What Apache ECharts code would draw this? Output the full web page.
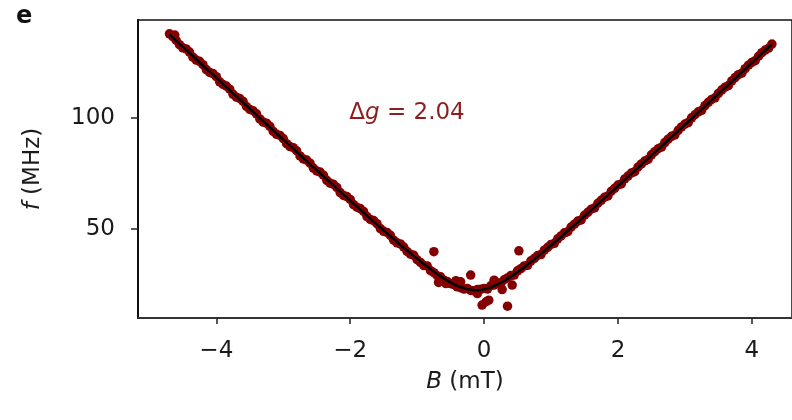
<!DOCTYPE html>
<html>
<head>
<meta charset="utf-8">
<script src="https://cdn.jsdelivr.net/npm/echarts@6/dist/echarts.min.js"></script>
<style>html,body{margin:0;padding:0;background:#fff;}#c{width:792px;height:420px;}</style>
</head>
<body>
<div id="c"></div>
<script>
// Field values (mT) for the main data band and fit
const fieldB = [
-4.7,-4.6,-4.5,-4.4,-4.3,-4.2,-4.1,-4.0,-3.9,-3.8,
-3.7,-3.6,-3.5,-3.4,-3.3,-3.2,-3.1,-3.0,-2.9,-2.8,
-2.7,-2.6,-2.5,-2.4,-2.3,-2.2,-2.1,-2.0,-1.9,-1.8,
-1.7,-1.6,-1.5,-1.4,-1.3,-1.2,-1.1,-1.0,-0.9,-0.8,
-0.7,-0.6,-0.5,-0.4,-0.3,-0.2,-0.1,0.0,0.1,0.2,
0.3,0.4,0.5,0.6,0.7,0.8,0.9,1.0,1.1,1.2,
1.3,1.4,1.5,1.6,1.7,1.8,1.9,2.0,2.1,2.2,
2.3,2.4,2.5,2.6,2.7,2.8,2.9,3.0,3.1,3.2,
3.3,3.4,3.5,3.6,3.7,3.8,3.9,4.0,4.1,4.2,4.3];
// Measured frequencies (MHz) at fieldB
const measuredF = [
137.8,134.9,131.5,129.6,126.0,123.9,120.4,118.5,115.0,112.9,
109.3,107.4,103.8,101.8,98.1,96.2,92.6,90.7,87.1,85.2,
81.5,79.6,76.1,74.2,70.6,68.7,65.1,63.3,59.8,57.9,
54.3,52.4,49.0,47.2,43.8,41.9,38.7,36.2,33.6,31.3,
29.0,27.0,25.4,24.0,23.0,22.4,22.8,23.3,24.5,25.9,
27.2,29.1,31.2,33.4,35.7,38.1,40.5,43.1,45.6,48.3,
50.9,53.6,56.2,58.9,61.6,64.3,67.0,69.8,72.5,75.2,
77.9,80.6,83.4,86.1,88.9,91.7,94.4,97.2,100.0,102.7,
105.5,108.3,111.0,113.8,116.6,119.4,122.1,124.9,127.7,130.5,133.2];
// Second sweep, interleaved field values (mT)
const fieldB2 = [
-4.65,-4.55,-4.45,-4.35,-4.25,-4.15,-4.05,-3.95,-3.85,-3.75,
-3.65,-3.55,-3.45,-3.35,-3.25,-3.15,-3.05,-2.95,-2.85,-2.75,
-2.65,-2.55,-2.45,-2.35,-2.25,-2.15,-2.05,-1.95,-1.85,-1.75,
-1.65,-1.55,-1.45,-1.35,-1.25,-1.15,-1.05,-0.95,-0.85,-0.75,
-0.65,-0.55,-0.45,-0.35,-0.25,-0.15,-0.05,0.05,0.15,0.25,
0.35,0.45,0.55,0.65,0.75,0.85,0.95,1.05,1.15,1.25,
1.35,1.45,1.55,1.65,1.75,1.85,1.95,2.05,2.15,2.25,
2.35,2.45,2.55,2.65,2.75,2.85,2.95,3.05,3.15,3.25,
3.35,3.45,3.55,3.65,3.75,3.85,3.95,4.05,4.15,4.25];
// Second sweep frequencies (MHz)
const measuredF2 = [
136.5,132.9,131.0,127.3,125.4,121.7,119.9,116.2,114.3,110.6,
108.7,105.1,103.2,99.5,97.6,93.9,92.1,88.4,86.6,82.9,
81.0,77.4,75.6,71.9,70.1,66.4,64.6,61.0,59.2,55.6,
53.8,50.2,48.5,45.0,43.3,39.9,38.2,35.0,33.4,30.4,
28.5,26.4,25.0,23.6,23.3,22.2,22.9,23.0,24.8,25.5,
28.0,29.3,32.2,33.7,36.8,38.5,41.8,43.6,46.9,48.8,
52.2,54.1,57.5,59.5,62.9,64.9,68.3,70.3,73.8,75.8,
79.3,81.3,84.8,86.8,90.4,92.3,95.9,97.9,101.4,103.4,
107.0,109.0,112.5,114.5,118.1,120.1,123.7,125.7,129.3,131.3];
// Fit curve (MHz) at fieldB
const fitF = [
137.5,134.7,131.9,129.1,126.4,123.5,120.8,118.0,115.2,112.4,
109.6,106.9,104.1,101.3,98.5,95.7,93.0,90.2,87.5,84.7,
81.9,79.2,76.5,73.7,71.0,68.2,65.5,62.8,60.1,57.4,
54.7,52.0,49.4,46.8,44.2,41.6,39.1,36.6,34.3,32.0,
29.8,27.8,26.0,24.5,23.4,22.7,22.5,22.9,23.8,25.1,
26.7,28.6,30.7,32.9,35.2,37.6,40.1,42.7,45.2,47.8,
50.5,53.1,55.8,58.5,61.2,63.9,66.6,69.3,72.1,74.8,
77.5,80.3,83.0,85.8,88.6,91.3,94.1,96.9,99.6,102.4,
105.2,108.0,110.7,113.5,116.3,119.1,121.9,124.7,127.5,130.3,133.0];
// Scattered points near zero field
const extraB = [-0.75, 0.52, -0.20, -0.35, -0.42, -0.57, 0.15, 0.27, 0.42, 0.07, -0.03, 0.03, 0.35, -0.68, -0.10, -4.62];
const extraF = [39.8, 40.2, 29.3, 26.3, 26.8, 25.5, 27.0, 22.8, 24.8, 18.0, 15.8, 17.3, 15.3, 26.0, 21.0, 137.2];
const xTicks = [-4, -2, 0, 2, 4];
const yTicks = [50, 100];

const FONT = 'DejaVu Sans';
const TXT = '#1a1a1a';
const chart = echarts.init(document.getElementById('c'), null, {renderer: 'canvas'});
const pts = fieldB.map((b, i) => [b, measuredF[i]])
  .concat(fieldB2.map((b, i) => [b, measuredF2[i]]))
  .concat(extraB.map((b, i) => [b, extraF[i]]));
const fit = fieldB.map((b, i) => [b, fitF[i]]);
chart.setOption({
  animation: false,
  backgroundColor: '#fff',
  grid: {left: 138, right: -2, top: 20, bottom: 102, show: true, borderColor: '#111', borderWidth: 1.5},
  xAxis: {
    type: 'value', min: -5.17, max: 4.6,
    splitLine: {show: false},
    axisLine: {show: true, onZero: false, lineStyle: {color: '#333', width: 2.2}},
    axisTick: {show: true, customValues: xTicks, length: 6, lineStyle: {color: '#222', width: 1.5}},
    axisLabel: {customValues: xTicks, margin: 22, fontSize: 23, color: TXT, fontFamily: FONT,
      formatter: v => (v < 0 ? '\u2212' + Math.abs(v) : String(v))},
    name: '{i|B} (mT)', nameLocation: 'middle', nameGap: 53,
    nameTextStyle: {fontSize: 23, color: TXT, fontFamily: FONT,
      rich: {i: {fontStyle: 'italic', fontSize: 23, color: TXT, fontFamily: FONT}}}
  },
  yAxis: {
    type: 'value', min: 10, max: 144,
    splitLine: {show: false},
    axisLine: {show: true, onZero: false, lineStyle: {color: '#111', width: 2}},
    axisTick: {show: true, customValues: yTicks, length: 7, lineStyle: {color: '#222', width: 1.5}},
    axisLabel: {customValues: yTicks, margin: 23, fontSize: 23, color: TXT, fontFamily: FONT},
    name: '{i|f} (MHz)', nameLocation: 'middle', nameGap: 93, nameRotate: 90,
    nameTextStyle: {fontSize: 23, color: TXT, fontFamily: FONT,
      rich: {i: {fontStyle: 'italic', fontSize: 23, color: TXT, fontFamily: FONT}}}
  },
  graphic: [
    {type: 'text', x: 16, y: 17, style: {text: 'e', font: 'bold 24px "DejaVu Sans"', fill: '#111', verticalAlign: 'middle'}},
    {type: 'text', x: 407, y: 113, style: {
      text: '{n|\u0394}{i|g}{n| = 2.04}', align: 'center', verticalAlign: 'middle',
      rich: {
        n: {fontSize: 23, fontFamily: FONT, fill: '#8b1f1f', color: '#8b1f1f'},
        i: {fontSize: 23, fontFamily: FONT, fontStyle: 'italic', fill: '#8b1f1f', color: '#8b1f1f'}
      }}}
  ],
  series: [
    {type: 'scatter', data: pts, symbolSize: 9.5, itemStyle: {color: '#850000', opacity: 1}, z: 2},
    {type: 'line', data: fit, showSymbol: false, smooth: true, lineStyle: {color: '#000', width: 2.5}, z: 3}
  ]
});
</script>
</body>
</html>
